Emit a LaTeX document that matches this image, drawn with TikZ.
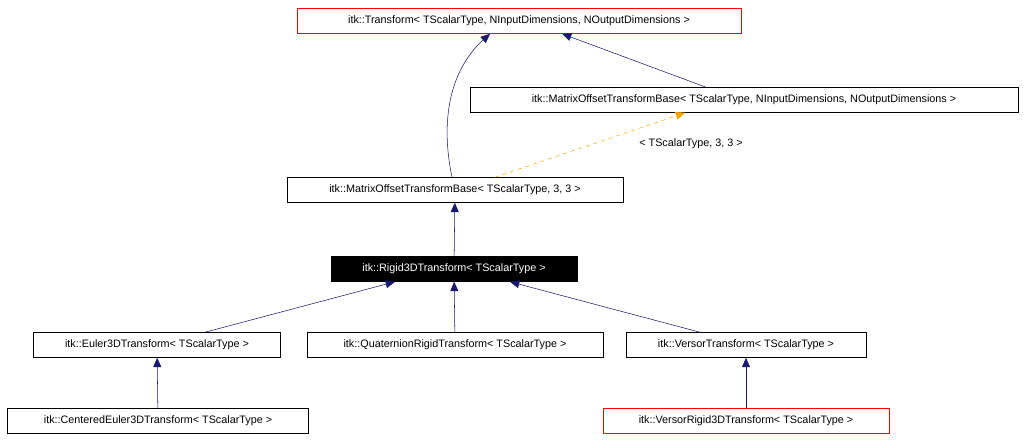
\documentclass[tikz,border=0pt]{standalone}
\usepackage{fontspec}
\setmainfont{Liberation Sans}
\usepackage{tikz}
\usepackage{xcolor}
\usetikzlibrary{positioning,shapes,arrows,arrows.meta}
\definecolor{edgeblue}{RGB}{25,25,112}
\definecolor{tmplorange}{RGB}{255,165,0}
\begin{document}
\begin{tikzpicture}[x=0.75pt,y=-0.75pt]
\tikzstyle{cls}=[draw=black,fill=white,inner sep=0pt,minimum height=18.75pt,font=\fontsize{8.1}{9.5}\selectfont]
\tikzstyle{redcls}=[cls,draw=red]
\tikzstyle{inh}=[draw=edgeblue,-{Triangle[length=7pt,width=6pt,fill=edgeblue]}]
\useasboundingbox (0,0) rectangle (1024,442);
\node [redcls,minimum width=333pt] (tr) at (519,21) {itk::Transform< TScalarType, NInputDimensions, NOutputDimensions >};
\node [cls,minimum width=411pt] (motb) at (744,100) {itk::MatrixOffsetTransformBase< TScalarType, NInputDimensions, NOutputDimensions >};
\node [cls,minimum width=252pt] (motb33) at (455,190) {itk::MatrixOffsetTransformBase< TScalarType, 3, 3 >};
\node [cls,fill=black,text=white,minimum width=184.5pt] (rigid) at (454,269) {itk::Rigid3DTransform< TScalarType >};
\node [cls,minimum width=185pt] (euler) at (157,345) {itk::Euler3DTransform< TScalarType >};
\node [cls,minimum width=222pt] (quat) at (455,345) {itk::QuaternionRigidTransform< TScalarType >};
\node [cls,minimum width=180pt] (versor) at (746,345) {itk::VersorTransform< TScalarType >};
\node [cls,minimum width=226pt] (ceuler) at (158,421) {itk::CenteredEuler3DTransform< TScalarType >};
\node [redcls,minimum width=214.5pt] (vrigid) at (746,421) {itk::VersorRigid3DTransform< TScalarType >};
% inheritance
\draw [inh] (motb33.north -| 452,0) .. controls (440,120) and (450,70) .. (tr.south -| 490,0);
\draw [inh] (motb.north -| 706,0) -- (tr.south -| 562,0);
\draw [draw=tmplorange,dashed,-{Triangle[length=7pt,width=6pt,fill=tmplorange]}] (motb33.north -| 495,0) -- (motb.south -| 685,0);
\draw (691,144) node {\fontsize{8.1}{9.5}\selectfont < TScalarType, 3, 3 >};
\draw [inh] (rigid) -- (motb33);
\draw [inh] (euler.north -| 205,0) -- (rigid.south -| 395,0);
\draw [inh] (quat) -- (rigid);
\draw [inh] (versor.north -| 700,0) -- (rigid.south -| 510,0);
\draw [inh] (ceuler) -- (euler);
\draw [inh] (vrigid) -- (versor);
\end{tikzpicture}
\end{document}
